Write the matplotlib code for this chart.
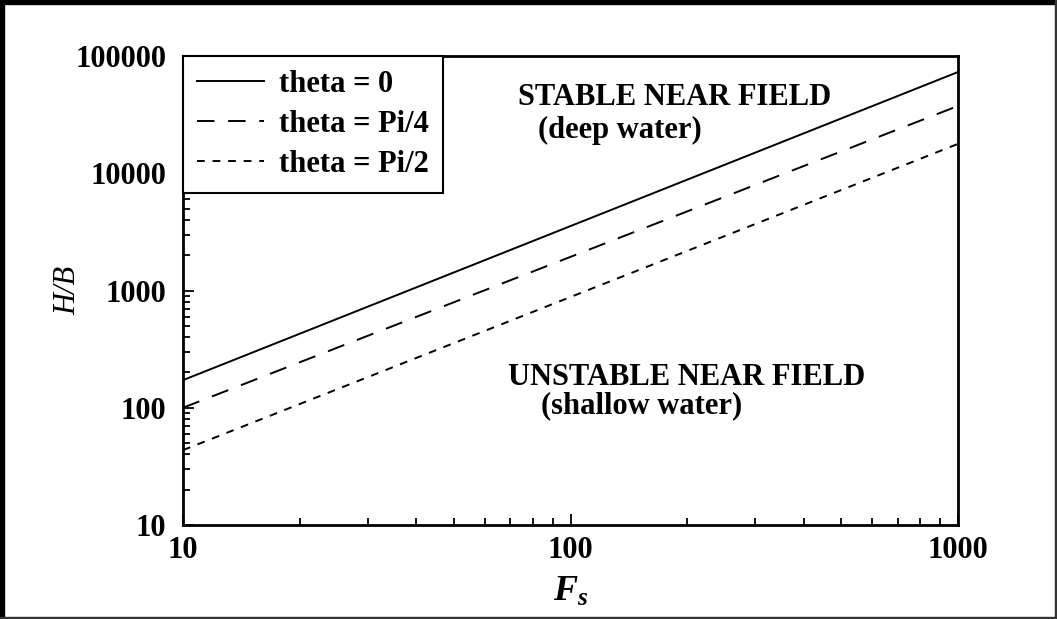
import numpy as np
import matplotlib.pyplot as plt
from matplotlib.patches import Rectangle

# end points of the three stability curves
fs = [10, 1000]
hb_theta0 = [172, 73000]
hb_pi4 = [100, 37500]
hb_pi2 = [43.5, 17800]
labels = ['theta = 0', 'theta = Pi/4', 'theta = Pi/2']

plt.rcParams['font.family'] = ['Liberation Serif', 'DejaVu Serif']
plt.rcParams['font.weight'] = 'bold'
plt.rcParams['mathtext.fontset'] = 'custom'
plt.rcParams['mathtext.it'] = 'Liberation Serif:italic:bold'
plt.rcParams['mathtext.rm'] = 'Liberation Serif:bold'

W, H = 1057, 619
fig = plt.figure(figsize=(W / 100, H / 100), dpi=100)
ax = fig.add_axes([183 / W, 1 - 525 / H, 775 / W, 469 / H])

ax.plot(fs, hb_theta0, color='black', lw=1.4, ls='-', label=labels[0])
ax.plot(fs, hb_pi4, color='black', lw=1.4, ls=(0, (9, 7)), label=labels[1])
ax.plot(fs, hb_pi2, color='black', lw=1.4, ls=(0, (4, 4)), label=labels[2])

ax.set_xscale('log')
ax.set_yscale('log')
ax.set_xlim(10, 1000)
ax.set_ylim(10, 100000)

ax.set_xticks([10, 100, 1000])
ax.set_xticklabels(['10', '100', '1000'])
ax.set_yticks([10, 100, 1000, 10000, 100000])
ax.set_yticklabels(['10', '100', '1000', '10000', '100000'])
ax.tick_params(which='both', direction='in', top=False, right=False, labelsize=22, width=1.3)
ax.tick_params(which='major', length=8)
ax.tick_params(which='minor', length=5)
ax.tick_params(axis='x', pad=8)
ax.tick_params(axis='y', pad=12)
for s in ax.spines.values():
    s.set_linewidth(2)

ax.set_xlabel('$F_s$', fontsize=26, labelpad=8)
ax.set_ylabel('H/B', fontsize=22, fontstyle='italic')
ax.yaxis.set_label_coords(-0.13, 0.5)

ax.text(186, 44000, 'STABLE NEAR FIELD', ha='center', va='center', fontsize=22)
ax.text(134, 23000, '(deep water)', ha='center', va='center', fontsize=22)
ax.text(199, 180, 'UNSTABLE NEAR FIELD', ha='center', va='center', fontsize=22)
ax.text(153, 105, '(shallow water)', ha='center', va='center', fontsize=22)

leg = ax.legend(loc='upper left', fontsize=22, frameon=True, fancybox=False,
                framealpha=1, edgecolor='black', handlelength=2.2, handletextpad=0.5,
                borderpad=0.45, labelspacing=0.36, borderaxespad=0)
leg.get_frame().set_linewidth(1.5)
leg.set_zorder(10)

# outer frame around the whole picture: heavy left/top, lighter right/bottom
fig.patches.append(Rectangle((0, 0), 4 / W, 1, transform=fig.transFigure, color='black'))
fig.patches.append(Rectangle((0, 1 - 4 / H), 1, 4 / H, transform=fig.transFigure, color='black'))
fig.patches.append(Rectangle((1 - 2 / W, 0), 2 / W, 1, transform=fig.transFigure, color='#333333'))
fig.patches.append(Rectangle((0, 0), 1, 2 / H, transform=fig.transFigure, color='#333333'))

fig.savefig('out.png', dpi=100)
